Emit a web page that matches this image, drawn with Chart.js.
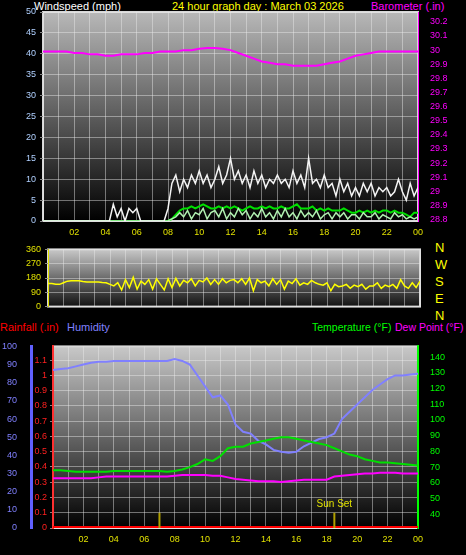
<!DOCTYPE html>
<html><head><meta charset="utf-8">
<script src="https://cdn.jsdelivr.net/npm/chart.js@4"></script>
<style>
body{margin:0;background:#000;width:466px;height:555px;overflow:hidden;position:relative;font-family:"Liberation Sans",Arial,sans-serif}
canvas{position:absolute;left:0}
.t{position:absolute;font-size:11px;white-space:nowrap;line-height:12px}
</style></head><body>
<div class="t" style="left:34px;top:0;color:#fff">Windspeed (mph)</div>
<div class="t" style="left:172px;top:0;color:#ffff00">24 hour graph day : March 03 2026</div>
<div class="t" style="left:371px;top:0;color:#ff00ff">Barometer (.in)</div>
<div class="t" style="left:435px;top:239px;color:#ffff00;font-size:13px;line-height:17px">N<br>W<br>S<br>E<br>N</div>
<div class="t" style="left:0;top:321px;color:#ff0000">Rainfall (.in)</div>
<div class="t" style="left:67px;top:321px;color:#8080ff">Humidity</div>
<div class="t" style="left:312px;top:321px;color:#00ff00;font-size:10.5px">Temperature (°F)</div>
<div class="t" style="left:395px;top:321px;color:#ff00ff;font-size:10.5px">Dew Point (°F)</div>
<canvas id="c1" width="466" height="245" style="top:0"></canvas>
<canvas id="c2" width="466" height="76" style="top:240px"></canvas>
<canvas id="c3" width="466" height="220" style="top:335px"></canvas>
<script>
const gust=[0,0,0,0,0,0,0,0,0,0,0,0,0,0,0,0,0,0,4,1,3,0,3,2,3,0,0,0,0,0,0,0,
3,9,11,7,10,8,11,9,12,9,11,8,10,13,9,11,15,10,12,9,11,8,12,9,11,8,10,9,11,9,10,8,
12,9,11,8,15,9,10,8,11,8,9,6,10,7,9,6,8,6,9,7,9,6,8,7,8,6,7,10,7,5,9,6,8];
const avgWind=[0,0,0,0,0,0,0,0,0,0,0,0,0,0,0,0,0,0,0,0,0,0,0,0,0,0,0,0,0,0,0,0,
0,0.5,1.5,2.5,3,3,3.5,3,3.5,4,3.5,3,3,3.5,3,3.5,3,3.5,3,2.5,3,3.5,3,3,3.5,3,3.5,3,3,3.5,3,3,
3.5,4,3,3,3,3.5,2.5,3,2.5,3,2.5,2.5,2.5,3,2.5,2,2,2.5,2,2.5,2,2.5,2,2.5,2.5,2,2.5,2,2,1.5,1,2,2];
const speed=[0,0,0,0,0,0,0,0,0,0,0,0,0,0,0,0,0,0,0,0,0,0,0,0,0,0,0,0,0,0,0,0,
0,0.5,1,2,1,2.5,0.5,2,1.5,3,0.5,2,2.5,1,3,0.5,2,1,3,1.5,2.5,0.5,2,1,3,1,2,0.5,2.5,1,3,1,
2,0.5,2.5,1,2,1,2.5,0.5,1.5,2,0.5,2,1,2,0.5,1.5,1.5,0.5,2,1,1,2,0.5,1.5,1,0.5,2,1,1.5,0.5,1,0.5,1];
const baro=[29.99,29.99,29.99,29.99,29.98,29.98,29.97,29.97,29.96,29.96,29.97,29.97,29.97,29.98,29.98,29.99,29.99,29.99,30.0,30.0,30.01,30.015,30.015,30.01,
30.0,29.98,29.96,29.94,29.92,29.91,29.90,29.90,29.89,29.89,29.89,29.89,29.90,29.91,29.92,29.94,29.96,29.97,29.98,29.99,29.99,29.99,29.99,29.99,29.99];
const dir=[145,145,140,140,150,160,162,162,162,158,155,155,155,155,152,150,140,130,150,105,170,120,185,110,160,140,170,110,175,140,105,175,
120,178,130,165,150,175,130,165,155,180,140,170,140,175,150,165,170,150,175,140,180,100,170,150,160,130,175,140,170,110,160,145,
175,135,150,140,165,150,140,135,150,100,140,125,130,140,115,135,125,140,110,130,130,150,115,135,125,140,115,170,130,115,150,120,160];
const humidity=[87,87.5,88,89,90,91,91.5,91.5,92,92,92,92,92,92,92,92,93,92,90,84,78,72,73,68,57,53,52,48,46,43,42,41.5,
42,45,47,49,50,52,60,64,68,72,76,79,82,84,84,84.5,85];
const temperature=[68,68,67.5,67,67,67,67,67,67.5,67.5,67.5,67.5,67.5,67.5,67.5,67,67.5,68.5,70,72,75,74,77,82,83,83,85,86,87,88,89,89,
88,87,86,85,84,82,80,78,77,75,74,73,73,72.5,72,71.5,71];
const dewPoint=[63,63,63,63,63,63,63.5,64,64,64,64,64,64,64,64,64,64.5,65,65,65,65,64.5,64.5,63.5,62.5,62,61.5,61,61,61,60.5,61,
61.5,62,62,62,62,64,64.5,65,65.5,66,66,66.5,66.5,66.5,66,66,66];
const rainfall=[0,0];
const sunTimes=[7,18.5];
const hourTicks=['','','02','','04','','06','','08','','10','','12','','14','','16','','18','','20','','22','','00'];

const pts=(arr,step)=>arr.map((v,i)=>({x:i*step,y:v}));
Chart.defaults.font.family='"Liberation Sans",Arial,sans-serif';
Chart.defaults.font.size=9;
const bgPlugin={id:'bg',beforeDraw(c,a,o){const {ctx,chartArea:ca}=c;const g=ctx.createLinearGradient(0,ca.top,0,ca.bottom);
g.addColorStop(0,o.top);g.addColorStop(1,o.bottom);ctx.save();ctx.fillStyle=g;ctx.fillRect(ca.left,ca.top,ca.width,ca.height);
ctx.strokeStyle='#d8d8d8';ctx.lineWidth=2;ctx.strokeRect(ca.left,ca.top,ca.width,ca.height);ctx.restore();}};
const fit=w=>s=>{s.width=w};
const fitH=h=>s=>{s.height=h};
const mk=(lo,n,step,dec)=>s=>{s.ticks=[];for(let i=0;i<=n;i++)s.ticks.push({value:+(lo+i*step).toFixed(dec)});};
const grid={color:'rgba(235,235,235,0.45)',borderDash:[1,2],tickLength:3,tickColor:'#888'};
const xScale=(show,h)=>({type:'linear',min:0,max:24,afterFit:fitH(h),afterBuildTicks:mk(0,24,1,0),
grid:{...grid,drawTicks:false},border:{display:false},ticks:{display:show,color:'#e0e000',padding:6,maxRotation:0,autoSkip:false,callback:v=>hourTicks[v]}});
const ln=(data,color,axis,w)=>({data,borderColor:color,yAxisID:axis,borderWidth:w||1.5,pointRadius:0,tension:0});
const base={responsive:false,animation:false,devicePixelRatio:1,plugins:{legend:{display:false},tooltip:{enabled:false}}};

new Chart(document.getElementById('c1'),{type:'line',plugins:[bgPlugin],data:{datasets:[
 ln(pts(baro,0.5),'#ff00ff','yb',2),
 ln(pts(gust,0.25),'#f4f4f4','y',1.5),
 ln(pts(speed,0.25),'#b0f0b0','y',1.5),
 ln(pts(avgWind,0.25),'#00e000','y',2)]},
 options:{...base,layout:{padding:{top:12}},plugins:{...base.plugins,bg:{top:'#b8b8b8',bottom:'#000'}},scales:{
 x:xScale(true,24),
 y:{position:'left',min:0,max:50,afterFit:fit(43),afterBuildTicks:mk(0,10,5,0),grid,border:{display:false},ticks:{color:'#b0d0ff',padding:4}},
 yb:{position:'right',min:28.79,max:30.27,afterFit:fit(48),afterBuildTicks:mk(28.8,14,0.1,1),grid:{display:false},border:{color:'#ff00ff'},
  ticks:{color:'#ff00ff',padding:4,callback:v=>String(v)}}}}});

new Chart(document.getElementById('c2'),{type:'line',plugins:[bgPlugin],data:{datasets:[ln(pts(dir,0.25),'#ffff00','y',1.5)]},
 options:{...base,layout:{padding:{top:5,right:46}},plugins:{...base.plugins,bg:{top:'#c8c8c8',bottom:'#111'}},scales:{
 x:xScale(false,3),
 y:{position:'left',min:0,max:360,afterFit:fit(48),afterBuildTicks:mk(0,4,90,0),grid,border:{color:'#e0e000'},ticks:{color:'#e0e000',padding:4}}}}});

const sunPlugin={id:'sun',afterDatasetsDraw(c){const {ctx}=c;const x=c.scales.x.getPixelForValue(sunTimes[1]);
 const y=c.scales.yr.getPixelForValue(0.12);ctx.save();ctx.fillStyle='#e0e000';ctx.font='10px "Liberation Sans",Arial';ctx.textAlign='center';
 ctx.fillText('Sun Set',x,y-3);ctx.restore();}};
const sunDs=sunTimes.map(t=>ln([{x:t,y:0},{x:t,y:0.1}],'#b0a000','yr',2));
new Chart(document.getElementById('c3'),{type:'line',plugins:[bgPlugin,sunPlugin],data:{datasets:[
 ...sunDs,
 ln(pts(dewPoint,0.5),'#ff00ff','yt',2),
 ln(pts(temperature,0.5),'#00e000','yt',2),
 ln(pts(humidity,0.5),'#8080ff','yh',2),
 ln([{x:0,y:rainfall[0]},{x:24,y:rainfall[1]}],'#ff0000','yr',4)]},
 options:{...base,layout:{padding:{top:7}},plugins:{...base.plugins,bg:{top:'#c8c8c8',bottom:'#000'}},scales:{
 x:xScale(true,27),
 yh:{position:'left',weight:1,min:0,max:100,afterFit:fit(31),afterBuildTicks:mk(0,10,10,0),grid:{display:false},border:{color:'#6060ff',width:3},ticks:{color:'#8080ff',padding:6}},
 yr:{position:'left',weight:0,min:0,max:1.19,afterFit:fit(22),afterBuildTicks:mk(0,11,0.1,1),grid,border:{color:'#ff3030',width:2},
  ticks:{color:'#ff2020',padding:3,callback:v=>String(v)}},
 yt:{position:'right',min:31.3,max:146.8,afterFit:fit(48),afterBuildTicks:mk(40,10,10,0),grid:{display:false},border:{color:'#00ff00',width:2},
  ticks:{color:'#00ff00',padding:4}}}}});
</script></body></html>
